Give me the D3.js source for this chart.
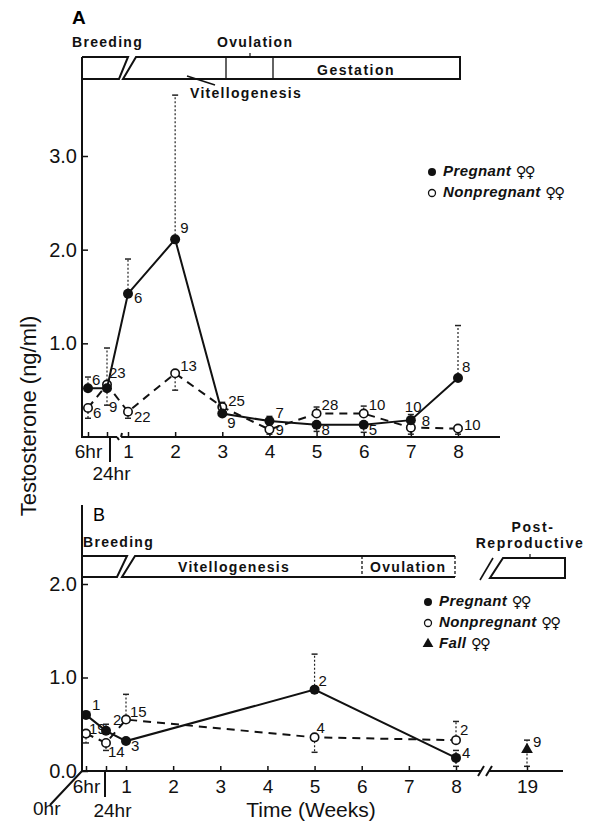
<!DOCTYPE html>
<html>
<head>
<meta charset="utf-8">
<script src="https://cdn.jsdelivr.net/npm/d3@7"></script>
<style>
  body { margin: 0; background: #fff; }
  svg { display: block; font-family: "Liberation Sans", Arial, sans-serif; }
</style>
</head>
<body>
<script>
// ---------------- DATA ----------------
// Panel A
const tickWeeksA = [6/168, 24/168, 1, 2, 3, 4, 5, 6, 7, 8];
const tickLabelsA = ["6hr", "24hr", "1", "2", "3", "4", "5", "6", "7", "8"];
const timeA = [6/168, 24/168, 1, 2, 3, 4, 5, 6, 7, 8];
const pregA = [0.52, 0.52, 1.53, 2.11, 0.25, 0.17, 0.13, 0.13, 0.18, 0.63];
const pregA_lo = [null, 0.34, null, null, null, null, 0.06, 0.05, null, null];
const pregA_hi = [0.64, null, 1.90, 3.65, null, 0.22, null, null, 0.24, 1.19];
const pregA_n = ["6", "9", "6", "9", "9", "7", "8", "5", "10", "8"];
const nonA = [0.31, 0.56, 0.27, 0.68, 0.32, 0.08, 0.25, 0.25, 0.10, 0.09];
const nonA_lo = [0.20, null, 0.20, 0.50, null, 0.03, null, null, 0.03, 0.03];
const nonA_hi = [null, 0.95, null, null, 0.37, null, 0.32, 0.33, null, null];
const nonA_n = ["6", "23", "22", "13", "25", "9", "28", "10", "8", "10"];
const yTicksA = [1, 2, 3];

// Panel B
const tickWeeksB = [6/168, 24/168, 1, 2, 3, 4, 5, 6, 7, 8, 19];
const tickLabelsB = ["6hr", "24hr", "1", "2", "3", "4", "5", "6", "7", "8", "19"];
const timeB = [6/168, 24/168, 1, 5, 8];
const pregB = [0.60, 0.43, 0.32, 0.87, 0.14];
const pregB_lo = [null, null, null, null, 0.05];
const pregB_hi = [null, 0.50, null, 1.25, 0.22];
const pregB_n = ["1", "2", "3", "2", "4"];
const nonB = [0.40, 0.30, 0.55, 0.36, 0.33];
const nonB_lo = [0.30, 0.22, null, 0.20, null];
const nonB_hi = [null, null, 0.82, null, 0.53];
const nonB_n = ["19", "14", "15", "4", "2"];
const timeFall = [19];
const fallB = [0.23];
const fallB_lo = [0.05];
const fallB_hi = [0.33];
const fallB_n = ["9"];
const yTicksB = [0, 1, 2];

const legendA = ["Pregnant", "Nonpregnant"];
const legendB = ["Pregnant", "Nonpregnant", "Fall"];
const femaleSign = "♀♀";

// ---------------- LAYOUT (drawing only) ----------------
const svg = d3.select("body").append("svg").attr("width", 589).attr("height", 833);

const xA = d3.scaleLinear().domain([0, 6/168, 24/168, 1, 8]).range([82, 88, 107, 128, 458]);
const yA = d3.scaleLinear().domain([0, 3]).range([437, 156]);
const xB = d3.scaleLinear().domain([0, 6/168, 24/168, 1, 8, 19]).range([82, 86, 106, 126, 456, 527]);
const yB = d3.scaleLinear().domain([0, 2]).range([771, 584]);

// label offsets for sample-size annotations [dx, dy]
const offPregA = [[4,-7],[2,20],[6,5],[5,-10],[5,10],[6,-7],[5,6],[5,6],[-6,-12],[4,-10]];
const offNonA  = [[5,6],[2,-11],[6,6],[5,-6],[6,-5],[6,2],[5,-8],[5,-8],[11,-6],[6,-3]];
const offPregB = [[6,-9],[7,-10],[5,6],[4,-8],[6,-4]];
const offNonB  = [[3,-4],[2,10],[4,-7],[2,-8],[4,-9]];
const offFall  = [[6,-6]];

function headerText(x, y, t, anchor, ls) {
  svg.append("text").attr("x", x).attr("y", y).attr("text-anchor", anchor || "start")
    .attr("font-size", 14).attr("font-weight", "bold").attr("letter-spacing", ls || 1.3)
    .attr("fill", "#111").text(t);
}

// ---------- Panel A ----------
svg.append("text").attr("x", 72).attr("y", 24).attr("font-size", 19).attr("font-weight", "bold").text("A");
headerText(72, 47, "Breeding");
headerText(217, 47, "Ovulation");
headerText(317, 75, "Gestation", "start", 1.5);
headerText(190, 98, "Vitellogenesis");

const hdrA = svg.append("g").attr("fill", "none").attr("stroke", "#111").attr("stroke-width", 2);
hdrA.append("path").attr("d", "M82,57 L128,57 L119,79 L82,79");
hdrA.append("path").attr("d", "M136,57 L460,57 L460,79 L123,79 Z");
hdrA.append("path").attr("d", "M226,57 V79 M273,57 V79").attr("stroke-width", 1.3);
hdrA.append("path").attr("d", "M250,57 V53").attr("stroke-width", 1.2);
hdrA.append("path").attr("d", "M187,76 L215,85").attr("stroke-width", 1.5);

// axes lines A
svg.append("path").attr("d", "M82,57 V437 H117 M121,437 H500 M117,437 l2,3 M121,437 l1,-4 M110,437 V462")
  .attr("fill", "none").attr("stroke", "#111").attr("stroke-width", 2);

function styleAxis(g, fs) {
  g.select(".domain").remove();
  g.selectAll(".tick line").attr("stroke", "#111").attr("stroke-width", 1.5);
  g.selectAll(".tick text").attr("font-size", fs).attr("fill", "#111")
    .attr("font-family", "'Liberation Sans', Arial, sans-serif");
}

const gxA = svg.append("g").attr("transform", "translate(0,437)")
  .call(d3.axisBottom(xA).tickValues(tickWeeksA).tickFormat((d, i) => tickLabelsA[i]).tickSize(-5).tickPadding(8));
styleAxis(gxA, 19);
gxA.selectAll(".tick text").filter(function() { return this.textContent === "24hr"; }).attr("y", 30).attr("dx", 4);

const gyA = svg.append("g").attr("transform", "translate(82,0)")
  .call(d3.axisLeft(yA).tickValues(yTicksA).tickFormat(d3.format(".1f")).tickSize(-6).tickPadding(5));
styleAxis(gyA, 20);

const marksLayer = svg.append("g");
const labelLayer = svg.append("g");

function drawSeries(xs, ys, times, vals, lo, hi, labels, offs, kind, dashed) {
  const g = marksLayer.append("g");
  if (vals.length > 1) {
    const line = d3.line().x((d, i) => xs(times[i])).y(d => ys(d));
    g.append("path").datum(vals).attr("d", line).attr("fill", "none").attr("stroke", "#111")
      .attr("stroke-width", 2).attr("stroke-dasharray", dashed ? "8,6" : null);
  }
  vals.forEach((v, i) => {
    const x = xs(times[i]);
    [lo[i], hi[i]].forEach(e => {
      if (e == null) return;
      g.append("line").attr("x1", x).attr("x2", x).attr("y1", ys(v)).attr("y2", ys(e))
        .attr("stroke", "#222").attr("stroke-width", 1.2).attr("stroke-dasharray", "2,2");
      g.append("line").attr("x1", x - 3).attr("x2", x + 3).attr("y1", ys(e)).attr("y2", ys(e))
        .attr("stroke", "#222").attr("stroke-width", 1.5);
    });
  });
  vals.forEach((v, i) => {
    const x = xs(times[i]), y = ys(v);
    if (kind === "filled") {
      g.append("circle").attr("cx", x).attr("cy", y).attr("r", 5).attr("fill", "#111");
    } else if (kind === "open") {
      g.append("circle").attr("cx", x).attr("cy", y).attr("r", 4.2).attr("fill", "#fff")
        .attr("stroke", "#111").attr("stroke-width", 1.6);
    } else {
      g.append("path").attr("d", d3.symbol(d3.symbolTriangle, 60)()).attr("transform", `translate(${x},${y})`)
        .attr("fill", "#111");
    }
    const o = offs[i];
    labelLayer.append("text").attr("x", x + o[0]).attr("y", y + o[1]).attr("dominant-baseline", "middle")
      .attr("font-size", 15).attr("fill", "#111").text(labels[i]);
  });
}

drawSeries(xA, yA, timeA, nonA, nonA_lo, nonA_hi, nonA_n, offNonA, "open", true);
drawSeries(xA, yA, timeA, pregA, pregA_lo, pregA_hi, pregA_n, offPregA, "filled", false);

function legend(x, y0, items, kinds) {
  items.forEach((t, i) => {
    const y = y0 + i * 21;
    if (kinds[i] === "filled") svg.append("circle").attr("cx", x).attr("cy", y).attr("r", 4).attr("fill", "#111");
    else if (kinds[i] === "open") svg.append("circle").attr("cx", x).attr("cy", y).attr("r", 3.5).attr("fill", "#fff").attr("stroke", "#111").attr("stroke-width", 1.3);
    else svg.append("path").attr("d", d3.symbol(d3.symbolTriangle, 50)()).attr("transform", `translate(${x},${y})`).attr("fill", "#111");
    const tx = svg.append("text").attr("x", x + 11).attr("y", y).attr("dominant-baseline", "middle")
      .attr("font-size", 15).attr("font-style", "italic").attr("font-weight", "bold").attr("letter-spacing", 0.4)
      .attr("fill", "#111");
    tx.append("tspan").text(t + " ");
    tx.append("tspan").attr("font-family", "'DejaVu Sans'").attr("font-size", 15).attr("font-weight", "bold")
      .attr("letter-spacing", -2).text(femaleSign);
  });
}
legend(432, 172, legendA, ["filled", "open"]);

// ---------- Panel B ----------
svg.append("text").attr("x", 93).attr("y", 521).attr("font-size", 18).text("B");
headerText(83, 547, "Breeding");
headerText(178, 572, "Vitellogenesis");
headerText(370, 572, "Ovulation");
headerText(533, 532, "Post-", "middle", 1.6);
headerText(530, 548, "Reproductive", "middle", 1.6);

const hdrB = svg.append("g").attr("fill", "none").attr("stroke", "#111").attr("stroke-width", 2);
hdrB.append("path").attr("d", "M82,556 L127,556 L117,577 L82,577");
hdrB.append("path").attr("d", "M455,556 L135,556 L122,577 L455,577");
hdrB.append("path").attr("d", "M455,556 V577 M362,556 V577").attr("stroke-width", 1.3).attr("stroke-dasharray", "3,2");
hdrB.append("path").attr("d", "M503,558 L565,558 L565,578 L490,578 Z");
hdrB.append("path").attr("d", "M493,558 L480,580").attr("stroke-width", 1.6);
hdrB.append("path").attr("d", "M530,558 V554").attr("stroke-width", 1.2);

svg.append("path").attr("d", "M82,505 V771 H481 M489,771 H563 M478,776 l6,-10 M486,776 l6,-10 M105,771 V797 M82,771 L50,805")
  .attr("fill", "none").attr("stroke", "#111").attr("stroke-width", 2);
svg.append("text").attr("x", 33).attr("y", 815).attr("font-size", 19).attr("fill", "#111").text("0hr");

const gxB = svg.append("g").attr("transform", "translate(0,771)")
  .call(d3.axisBottom(xB).tickValues(tickWeeksB).tickFormat((d, i) => tickLabelsB[i]).tickSize(-5).tickPadding(9));
styleAxis(gxB, 19);
gxB.selectAll(".tick text").filter(function() { return this.textContent === "24hr"; }).attr("y", 33).attr("dx", 6);

const gyB = svg.append("g").attr("transform", "translate(82,0)")
  .call(d3.axisLeft(yB).tickValues(yTicksB).tickFormat(d3.format(".1f")).tickSize(-6).tickPadding(5));
styleAxis(gyB, 20);

drawSeries(xB, yB, timeB, nonB, nonB_lo, nonB_hi, nonB_n, offNonB, "open", true);
drawSeries(xB, yB, timeB, pregB, pregB_lo, pregB_hi, pregB_n, offPregB, "filled", false);
drawSeries(xB, yB, timeFall, fallB, fallB_lo, fallB_hi, fallB_n, offFall, "tri", false);

labelLayer.raise();
legend(428, 602, legendB, ["filled", "open", "tri"]);

// ---------- axis titles ----------
svg.append("text").attr("transform", "translate(36,416) rotate(-90)").attr("text-anchor", "middle")
  .attr("font-size", 22).attr("fill", "#111").text("Testosterone (ng/ml)");
svg.append("text").attr("x", 311).attr("y", 817).attr("text-anchor", "middle")
  .attr("font-size", 21).attr("fill", "#111").text("Time (Weeks)");
</script>
</body>
</html>
